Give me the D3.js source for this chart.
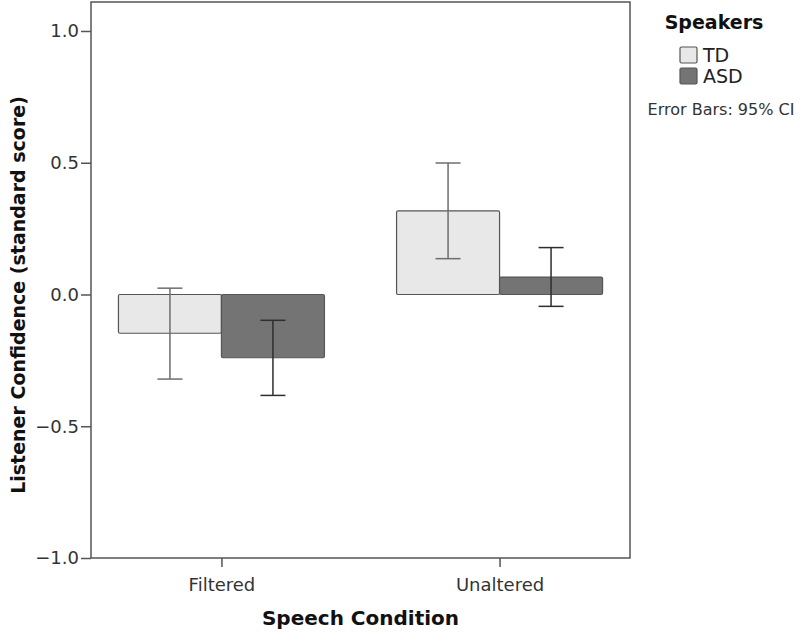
<!DOCTYPE html>
<html>
<head>
<meta charset="utf-8">
<script src="https://cdn.jsdelivr.net/npm/d3@7"></script>
<style>
  body { margin: 0; background: #fff; }
  svg { display: block; font-family: "DejaVu Sans", sans-serif; }
  .frame { fill: none; stroke: #555; stroke-width: 1.5; }
  .tick line { stroke: #555; stroke-width: 1.5; }
  .bar { stroke: #555; stroke-width: 1.2; }
</style>
</head>
<body>
<div id="chart"></div>
<script>
  // values
  const conditions = ["Filtered", "Unaltered"];
  const speakers = ["TD", "ASD"];
  const tdMean = [-0.147, 0.317];
  const tdLow = [-0.321, 0.136];
  const tdHigh = [0.024, 0.499];
  const asdMean = [-0.240, 0.066];
  const asdLow = [-0.383, -0.045];
  const asdHigh = [-0.098, 0.178];
  const yTicks = [-1.0, -0.5, 0.0, 0.5, 1.0];

  const fills = {TD: "#e8e8e8", ASD: "#747474"};
  const errColor = {TD: "#6e6e6e", ASD: "#2e2e2e"};

  const W = 800, H = 634;
  const plot = {left: 91, right: 630, top: 2, bottom: 558};

  const svg = d3.select("#chart").append("svg")
    .attr("width", W)
    .attr("height", H);

  const x = d3.scalePoint()
    .domain(conditions)
    .range([plot.left, plot.right])
    .padding(0.469);

  const y = d3.scaleLinear()
    .domain([-1, 1.11])
    .range([plot.bottom, plot.top]);

  const barW = 103;

  const rows = [];
  conditions.forEach(function (c, i) {
    rows.push({cond: c, sp: "TD", mean: tdMean[i], lo: tdLow[i], hi: tdHigh[i], off: -1});
    rows.push({cond: c, sp: "ASD", mean: asdMean[i], lo: asdLow[i], hi: asdHigh[i], off: 0});
  });

  // bars
  svg.append("g").selectAll("rect")
    .data(rows)
    .join("rect")
      .attr("class", "bar")
      .attr("x", d => x(d.cond) + d.off * barW)
      .attr("width", barW)
      .attr("y", d => y(Math.max(0, d.mean)))
      .attr("height", d => Math.abs(y(d.mean) - y(0)))
      .attr("rx", 1.5)
      .attr("fill", d => fills[d.sp]);

  // error bars
  const eb = svg.append("g").selectAll("g")
    .data(rows)
    .join("g")
      .attr("stroke", d => errColor[d.sp])
      .attr("stroke-width", 1.5);
  const cx = d => x(d.cond) + d.off * barW + barW / 2;
  eb.append("line")
    .attr("x1", cx).attr("x2", cx)
    .attr("y1", d => y(d.lo)).attr("y2", d => y(d.hi));
  eb.append("line")
    .attr("x1", d => cx(d) - 12.5).attr("x2", d => cx(d) + 12.5)
    .attr("y1", d => y(d.hi)).attr("y2", d => y(d.hi));
  eb.append("line")
    .attr("x1", d => cx(d) - 12.5).attr("x2", d => cx(d) + 12.5)
    .attr("y1", d => y(d.lo)).attr("y2", d => y(d.lo));

  // frame
  svg.append("rect")
    .attr("class", "frame")
    .attr("x", plot.left)
    .attr("y", plot.top)
    .attr("width", plot.right - plot.left)
    .attr("height", plot.bottom - plot.top);

  // axes
  const yAxis = svg.append("g")
    .attr("transform", "translate(" + plot.left + ",0)")
    .call(d3.axisLeft(y).tickValues(yTicks).tickFormat(d => d.toFixed(1).replace("-", "\u2212")).tickSize(10).tickPadding(2));
  yAxis.select(".domain").remove();

  const xAxis = svg.append("g")
    .attr("transform", "translate(0," + plot.bottom + ")")
    .call(d3.axisBottom(x).tickSize(9).tickPadding(11));
  xAxis.select(".domain").remove();

  svg.selectAll(".tick text")
    .attr("font-family", "DejaVu Sans, sans-serif")
    .attr("font-size", 18)
    .attr("fill", "#333");

  // axis titles
  svg.append("text")
    .attr("x", (plot.left + plot.right) / 2)
    .attr("y", 625)
    .attr("text-anchor", "middle")
    .attr("font-weight", "bold")
    .attr("font-size", 20)
    .attr("fill", "#111")
    .text("Speech Condition");

  svg.append("text")
    .attr("transform", "translate(25,295) rotate(-90)")
    .attr("text-anchor", "middle")
    .attr("font-weight", "bold")
    .attr("font-size", 19)
    .attr("fill", "#111")
    .text("Listener Confidence (standard score)");

  // legend
  const lg = svg.append("g");
  lg.append("text")
    .attr("x", 714).attr("y", 29)
    .attr("text-anchor", "middle")
    .attr("font-weight", "bold")
    .attr("font-size", 19)
    .attr("fill", "#111")
    .text("Speakers");

  speakers.forEach(function (s, i) {
    lg.append("rect")
      .attr("x", 680).attr("y", 47 + i * 21)
      .attr("width", 17).attr("height", 16)
      .attr("rx", 1.5)
      .attr("fill", fills[s])
      .attr("stroke", "#555")
      .attr("stroke-width", 1.2);
    lg.append("text")
      .attr("x", 703).attr("y", 62 + i * 21)
      .attr("font-size", 19)
      .attr("fill", "#222")
      .text(s);
  });

  lg.append("text")
    .attr("x", 721).attr("y", 115)
    .attr("text-anchor", "middle")
    .attr("font-size", 16)
    .attr("fill", "#333")
    .text("Error Bars: 95% CI");
</script>
</body>
</html>
